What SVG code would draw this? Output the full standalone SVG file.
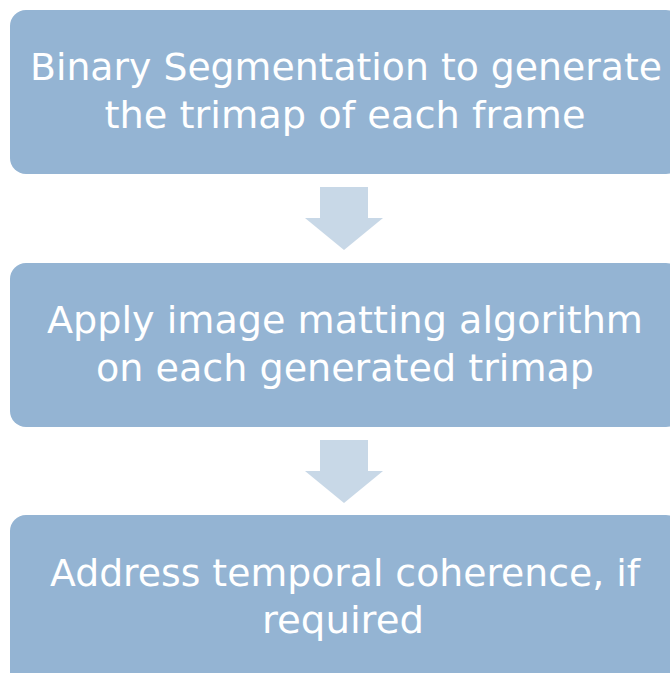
<svg xmlns="http://www.w3.org/2000/svg" width="670" height="673" viewBox="0 0 670 673">
  <style>
    .box { fill: #94b4d3; }
    .arrow { fill: #c8d8e7; }
    .label { fill: #ffffff; font-family: "DejaVu Sans", "Liberation Sans", sans-serif; font-size: 38px; text-anchor: middle; }
  </style>
  <rect width="670" height="673" fill="#ffffff"/>

  <g id="connectors">
    <polygon class="arrow" points="320,187 368,187 368,218 383,218 344,250 305,218 320,218"/>
    <polygon class="arrow" points="320,440 368,440 368,471 383,471 344,503 305,471 320,471"/>
  </g>

  <g id="step1">
    <rect class="box" x="10" y="10" width="672" height="164" rx="16"/>
    <text class="label" x="346" y="80" textLength="632" lengthAdjust="spacingAndGlyphs">Binary Segmentation to generate</text>
    <text class="label" x="345" y="128" textLength="481" lengthAdjust="spacingAndGlyphs">the trimap of each frame</text>
  </g>

  <g id="step2">
    <rect class="box" x="10" y="263" width="672" height="164" rx="16"/>
    <text class="label" x="345" y="333" textLength="596" lengthAdjust="spacingAndGlyphs">Apply image matting algorithm</text>
    <text class="label" x="345" y="381" textLength="498" lengthAdjust="spacingAndGlyphs">on each generated trimap</text>
  </g>

  <g id="step3">
    <rect class="box" x="10" y="515" width="672" height="175" rx="16"/>
    <text class="label" x="345" y="586" textLength="590" lengthAdjust="spacingAndGlyphs">Address temporal coherence, if</text>
    <text class="label" x="343" y="633" textLength="162" lengthAdjust="spacingAndGlyphs">required</text>
  </g>
</svg>
